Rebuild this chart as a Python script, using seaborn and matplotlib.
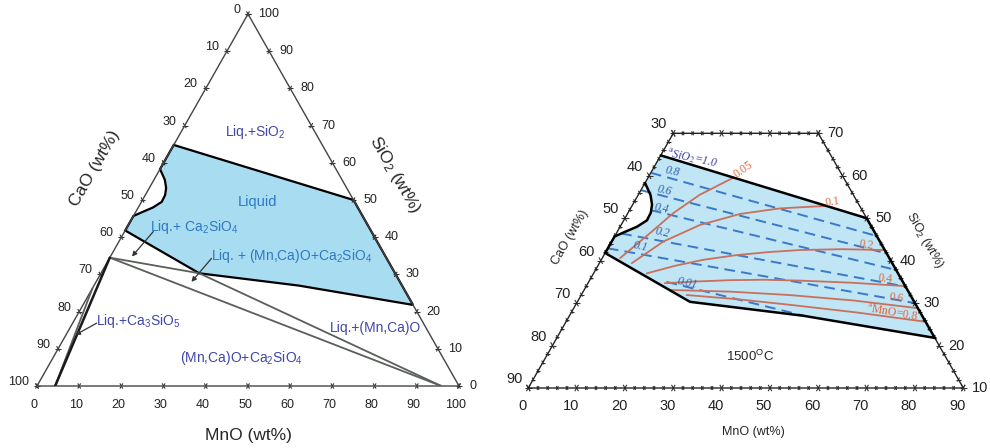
import numpy as np
import pandas as pd
import matplotlib
matplotlib.use("Agg")
import matplotlib.pyplot as plt
import seaborn as sns

sns.set_theme(style="white")
plt.rcParams["font.family"] = ["Liberation Sans", "DejaVu Sans"]
plt.rcParams["mathtext.fontset"] = "custom"
plt.rcParams["mathtext.rm"] = "Liberation Sans"
plt.rcParams["mathtext.it"] = "Liberation Sans:italic"
plt.rcParams["mathtext.bf"] = "Liberation Sans:bold"
plt.rcParams["mathtext.default"] = "rm"

# ---------------- data: compositions as (wt% MnO, wt% SiO2); CaO = 100 - MnO - SiO2 ----------------
liquid_mno = [0.0, 50.0, 78.2, 48.5, 23.3, 0.0, 0.0, 1.8, 3.5, 4.8, 4.7, 4.0, 2.6, 1.0, 0.0]
liquid_sio2 = [64.8, 50.0, 21.8, 27.0, 30.3, 41.8, 45.7, 46.9, 48.0, 49.5, 51.3, 53.2, 55.4, 57.2, 58.3]

# tie lines (left diagram)
tie_start_mno = [0.0, 23.3, 0.0, 0.0]
tie_start_sio2 = [34.5, 30.3, 34.5, 26.3]
tie_end_mno = [23.3, 95.8, 95.8, 4.3]
tie_end_sio2 = [30.3, 0.0, 0.0, 0.0]
c2s_line_mno = [0.0, 4.3]
c2s_line_sio2 = [34.5, 0.0]

# phase-field labels (left diagram)
region_labels = ["Liq.+SiO$_2$", "Liquid", "Liq.+ Ca$_2$SiO$_4$",
                 "Liq. + (Mn,Ca)O+Ca$_2$SiO$_4$", "Liq.+(Mn,Ca)O",
                 "Liq.+Ca$_3$SiO$_5$", "(Mn,Ca)O+Ca$_2$SiO$_4$"]
region_mno = [17.7, 27.6, 15.8, 42.8, 72.3, 15.3, 44.7]
region_sio2 = [68.3, 49.5, 42.7, 34.9, 15.6, 17.5, 7.5]
region_colors = ["#4047a8", "#2f78c4", "#2f78c4", "#2f78c4", "#4047a8", "#4047a8", "#4047a8"]

# pointer arrows (left diagram)
arrow_tail_mno = [6.8, 24.2, 5.7]
arrow_tail_sio2 = [41.5, 34.3, 16.9]
arrow_head_mno = [5.1, 22.6, 2.2]
arrow_head_sio2 = [34.8, 28.0, 13.7]

# iso-activity lines of SiO2 (right diagram, dashed)
asio2_levels = ["0.8", "0.6", "0.4", "0.2", "0.1", "0.01"]
asio2_mno = [[0.0, 54.2], [0.0, 58.3], [4.4, 62.2], [1.0, 66.1], [0.0, 70.0], [16.1, 49.0]]
asio2_sio2 = [[60.7, 45.8], [56.6, 41.7], [51.9, 37.8], [46.4, 33.9], [42.9, 30.0], [35.0, 26.9]]
asio2_lab_mno = [4.3, 4.9, 6.5, 9.4, 6.5, 20.6]
asio2_lab_sio2 = [60.9, 56.6, 52.2, 46.5, 43.2, 34.7]

# iso-activity lines of MnO (right diagram, solid)
amno_levels = ["0.05", "0.1", "0.2", "0.4", "0.6", "0.8"]
amno_mno = [[3.7, 6.9, 9.4, 12.7, 17.6],
            [6.7, 10.7, 16.3, 23.3, 30.8, 40.1],
            [11.0, 16.0, 21.1, 27.4, 33.5, 39.9, 48.5, 57.5],
            [15.9, 22.5, 29.0, 36.0, 43.5, 54.5, 66.0],
            [17.7, 30.4, 43.1, 57.1, 71.2],
            [21.8, 33.0, 44.3, 59.0, 74.4]]
amno_sio2 = [[40.6, 46.4, 51.2, 55.5, 59.5],
             [39.4, 44.5, 48.4, 51.0, 52.3, 52.9],
             [37.0, 38.8, 40.2, 41.3, 42.0, 42.5, 42.7, 42.5],
             [34.7, 35.1, 35.4, 35.5, 35.3, 34.8, 34.0],
             [33.1, 32.7, 31.9, 30.6, 28.8],
             [31.9, 30.9, 29.6, 27.8, 25.6]]
amno_labels = ["0.05", "0.1", "0.2", "0.4", "0.6", "$^{a}$MnO=0.8"]
amno_lab_mno = [18.7, 41.0, 53.1, 60.9, 65.6, 66.4]
amno_lab_sio2 = [61.4, 53.8, 43.7, 35.7, 31.2, 27.9]
amno_lab_rot = [35, 8, -8, -6, -8, -10]

# axis ticks
left_ticks = list(range(0, 101, 10))
right_mno_ticks = list(range(0, 91, 10))
right_cao_ticks = list(range(30, 91, 10))
right_sio2_ticks = list(range(10, 71, 10))

SQ = np.sqrt(3) / 2


def xy(m, s):
    m = np.asarray(m, float)
    s = np.asarray(s, float)
    return m + s / 2, s * SQ


D60 = (0.5, SQ)
D120 = (-0.5, SQ)
D0 = (1.0, 0.0)
TICK = "#333333"


def tick(ax, m, s, dirs, L, lw=0.8):
    X, Y = xy(m, s)
    for dx, dy in dirs:
        ax.plot([X - L * dx, X + L * dx], [Y - L * dy, Y + L * dy],
                color=TICK, lw=lw, clip_on=False, solid_capstyle="butt")


fig = plt.figure(figsize=(9.9, 4.48), dpi=100)
fig.patch.set_facecolor("white")
axL = fig.add_axes([37 / 990, 62 / 448, 422 / 990, 372 / 448])
axR = fig.add_axes([528.3 / 990, 60 / 448, 435 / 990, 254.7 / 448])
for ax in (axL, axR):
    ax.set_axis_off()
axL.set_xlim(0, 100)
axL.set_ylim(0, 100 * SQ)
axR.set_xlim(5, 95)
axR.set_ylim(10 * SQ, 70 * SQ)

# ======================= LEFT: full ternary =======================
tx, ty = xy([0, 100, 0, 0], [0, 0, 100, 0])
axL.plot(tx, ty, color="#444444", lw=1.0, clip_on=False, zorder=3)

lx, ly = xy(liquid_mno, liquid_sio2)
axL.fill(lx, ly, facecolor="#a8dcf1", edgecolor="black", lw=1.6, zorder=2)

for m0, s0, m1, s1 in zip(tie_start_mno, tie_start_sio2, tie_end_mno, tie_end_sio2):
    X, Y = xy([m0, m1], [s0, s1])
    axL.plot(X, Y, color="#5a5f5a", lw=1.3, zorder=3)
X, Y = xy(c2s_line_mno, c2s_line_sio2)
axL.plot(X, Y, color="#1a1a1a", lw=1.8, zorder=3)

for t, m, s, c in zip(region_labels, region_mno, region_sio2, region_colors):
    X, Y = xy(m, s)
    axL.text(X, Y, t, color=c, fontsize=10 if t != "Liquid" else 10.5,
             ha="center", va="center", zorder=5)

for mt, st, mh, sh in zip(arrow_tail_mno, arrow_tail_sio2, arrow_head_mno, arrow_head_sio2):
    axL.annotate("", xy=xy(mh, sh), xytext=xy(mt, st),
                 arrowprops=dict(arrowstyle="-|>", color="#333333", lw=0.9,
                                 mutation_scale=7, shrinkA=0, shrinkB=0), zorder=5)

for v in left_ticks:
    # MnO (bottom)
    tick(axL, v, 0, [D60, D120], 0.7)
    axL.annotate(str(v), xy(v, 0), xytext=(-3, -19), textcoords="offset pixels",
                 ha="center", va="center", fontsize=9, color="#222222")
    # CaO (left)
    tick(axL, 0, 100 - v, [D0, D120], 0.7)
    axL.annotate(str(v), xy(0, 100 - v), xytext=(-8, 4), textcoords="offset pixels",
                 ha="right", va="center", fontsize=9, color="#222222")
    # SiO2 (right)
    tick(axL, 100 - v, v, [D0, D60], 0.7)
    axL.annotate(str(v), xy(100 - v, v), xytext=(10, 0), textcoords="offset pixels",
                 ha="left", va="center", fontsize=9, color="#222222")

fig.text(95 / 990, 1 - 168 / 448, "CaO (wt%)", rotation=60, ha="center", va="center", fontsize=12.5)
fig.text(395 / 990, 1 - 175 / 448, "SiO$_2$ (wt%)", rotation=-60, ha="center", va="center", fontsize=12.5)
fig.text(248 / 990, 1 - 435 / 448, "MnO (wt%)", ha="center", va="center", fontsize=12.5)

# ======================= RIGHT: magnified region =======================
zx, zy = xy([0, 90, 30, 0, 0], [10, 10, 70, 70, 10])
axR.plot(zx, zy, color="#222222", lw=1.0, clip_on=False, zorder=3)

rx, ry = xy(liquid_mno, liquid_sio2)
axR.fill(rx, ry, facecolor="#c0e5f4", edgecolor="none", zorder=1)

rows = []
for lev, ms, ss in zip(asio2_levels, asio2_mno, asio2_sio2):
    X, Y = xy(ms, ss)
    for i, (a, b) in enumerate(zip(X, Y)):
        rows.append(dict(level=lev, order=i, X=a, Y=b))
df_si = pd.DataFrame(rows)
sns.lineplot(data=df_si, x="X", y="Y", units="level", estimator=None, sort=False,
             color="#3a78c9", lw=1.4, linestyle=(0, (5.5, 3.2)), legend=False, ax=axR, zorder=2)

rows = []
for lev, ms, ss in zip(amno_levels, amno_mno, amno_sio2):
    X, Y = xy(ms, ss)
    for i, (a, b) in enumerate(zip(X, Y)):
        rows.append(dict(level=lev, order=i, X=a, Y=b))
df_mn = pd.DataFrame(rows)
sns.lineplot(data=df_mn, x="X", y="Y", units="level", estimator=None, sort=False,
             color="#c9705c", lw=1.3, legend=False, ax=axR, zorder=2)

axR.plot(rx, ry, color="black", lw=1.8, zorder=4, solid_joinstyle="miter")

for t, m, s in zip(asio2_levels, asio2_lab_mno, asio2_lab_sio2):
    X, Y = xy(m, s)
    axR.text(X, Y, t, color="#3060b0", fontsize=8.5, family="Liberation Serif",
             style="italic", ha="center", va="center", rotation=-12, zorder=5)
X, Y = xy(6.9, 64.2)
axR.text(X, Y, "$^{a}$SiO$_2$=1.0", color="#3a3f9e", fontsize=8.5, family="Liberation Serif",
         style="italic", ha="center", va="center", rotation=-12, math_fontfamily="stix", zorder=5)

for t, m, s, r in zip(amno_labels, amno_lab_mno, amno_lab_sio2, amno_lab_rot):
    X, Y = xy(m, s)
    axR.text(X, Y, t, color="#e0683e", fontsize=8.5, family="Liberation Serif",
             ha="center", va="center", rotation=r, math_fontfamily="stix", zorder=5)

# ticks of the magnified region
for v in range(0, 91, 2):
    L = 0.75 if v % 10 == 0 else 0.45
    tick(axR, v, 10, [D60, D120], L)
for v in range(0, 31, 2):
    L = 0.75 if v % 10 == 0 else 0.45
    tick(axR, v, 70, [D60, D120], L)
for s in range(10, 71, 2):
    L = 0.75 if s % 10 == 0 else 0.45
    tick(axR, 0, s, [D0, D120], L)
    tick(axR, 100 - s, s, [D0, D60], L)

for v in right_mno_ticks:
    axR.annotate(str(v), xy(v, 10), xytext=(-6, -18), textcoords="offset pixels",
                 ha="center", va="center", fontsize=10.5, color="#222222")
for v in right_cao_ticks:
    axR.annotate(str(v), xy(0, 100 - v), xytext=(-6, 9), textcoords="offset pixels",
                 ha="right", va="center", fontsize=10.5, color="#222222")
for v in right_sio2_ticks:
    axR.annotate(str(v), xy(100 - v, v), xytext=(9, 0), textcoords="offset pixels",
                 ha="left", va="center", fontsize=10.5, color="#222222")

fig.text(570 / 990, 1 - 237 / 448, "CaO (wt%)", rotation=60, ha="center", va="center", fontsize=9)
fig.text(925 / 990, 1 - 240 / 448, "SiO$_2$ (wt%)", rotation=-60, ha="center", va="center", fontsize=9)
fig.text(753 / 990, 1 - 432 / 448, "MnO (wt%)", ha="center", va="center", fontsize=9)
fig.text(750 / 990, 1 - 356 / 448, "1500$^{O}$C", ha="center", va="center", fontsize=9.5)

fig.savefig("out.png", dpi=100, facecolor="white")
